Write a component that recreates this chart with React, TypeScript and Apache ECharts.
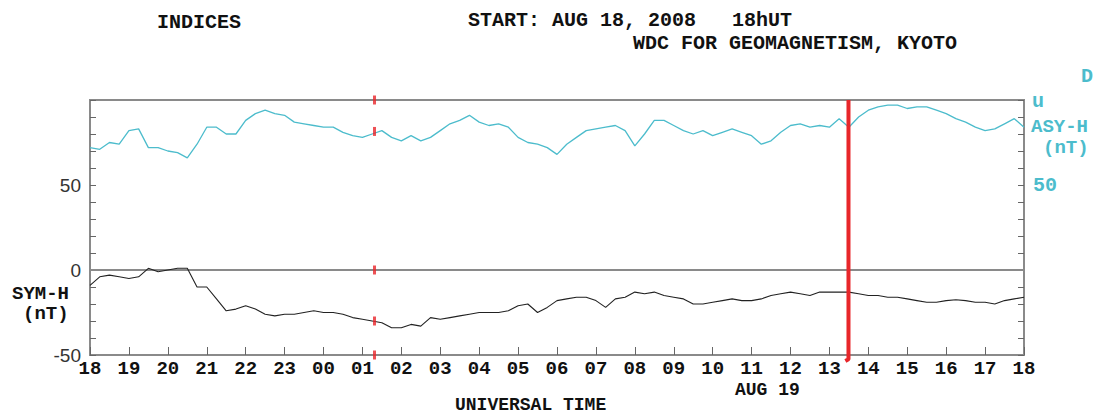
import React, { useEffect, useRef } from "react";
import * as echarts from "echarts";

// Hours after 2008-08-18 18h UT, sampled every quarter hour
const STEP_HOURS = 0.25;
const HOUR_LABELS = [
  "18", "19", "20", "21", "22", "23", "00", "01", "02", "03", "04", "05", "06",
  "07", "08", "09", "10", "11", "12", "13", "14", "15", "16", "17", "18",
];
const LEFT_LABELS = [-50, 0, 50];
const RIGHT_LABELS = [50];

// ASY-H (nT)
const ASY_H = [
  72, 71, 75, 74, 82, 83, 72, 72, 70, 69, 66, 74, 84, 84, 80, 80, 88, 92, 94, 92,
  91, 87, 86, 85, 84, 84, 81, 79, 78, 80, 82, 78, 76, 79, 76, 78, 82, 86, 88, 91,
  87, 85, 86, 84, 78, 75, 74, 72,
  68, 74, 78, 82, 83, 84, 85, 82, 73, 80, 88, 88, 85, 82, 80, 82, 79, 81, 83, 81,
  79, 74, 76, 81, 85, 86, 84, 85, 84, 89, 84, 90, 94, 96, 97, 97, 95, 96, 96, 94,
  92, 89, 87, 84, 82, 83, 86, 89, 84,
];

// SYM-H (nT)
const SYM_H = [
  -9, -4, -3, -4, -5, -4, 1, -1, 0, 1, 1, -10, -10, -17, -24, -23, -21, -23, -26, -27,
  -26, -26, -25, -24, -25, -25, -26, -28, -29, -30, -31, -34, -34, -32, -33, -28,
  -29, -28, -27, -26, -25, -25, -25, -24, -21, -20, -25, -22,
  -18, -17, -16, -16, -18, -22, -17, -16, -13, -14, -13, -15, -16, -17, -20, -20,
  -19, -18, -17, -18, -18, -17, -15, -14, -13, -14, -15, -13, -13, -13, -13, -14,
  -15, -15, -16, -16, -17, -18, -19, -19, -18, -17.5, -18, -19, -19, -20, -18, -17,
  -16,
];

// Red event markers
const CURSOR_HOUR = 7.31;
const CURSOR_VALUES = [100, 81.5, 0, -30, -50];
const EVENT_HOUR = 19.49;
const EVENT_LINE = [
  [EVENT_HOUR, 100],
  [EVENT_HOUR, -52.5],
  [EVENT_HOUR - 0.08, -53.5],
];

const MONO = "'Liberation Mono', 'DejaVu Sans Mono', monospace";
const CYAN = "#4cbccc";
const GRAY = "#8a8a8a";

export default function App() {
  const ref = useRef<HTMLDivElement>(null);

  useEffect(() => {
    if (!ref.current) return;
    const chart = echarts.init(ref.current, undefined, { renderer: "svg" });

    const asy = ASY_H.map((v, i) => [i * STEP_HOURS, v]);
    const sym = SYM_H.map((v, i) => [i * STEP_HOURS, v]);
    const cursor = CURSOR_VALUES.map((v) => [CURSOR_HOUR, v]);

    const txt = (
      text: string,
      x: number,
      y: number,
      fill = "#111",
      size = 20,
      lh = 16
    ) => ({
      type: "text",
      x,
      y,
      silent: true,
      style: {
        text,
        fill,
        font: `bold ${size}px ${MONO}`,
        lineHeight: lh,
        textAlign: "left",
        textVerticalAlign: "middle",
      },
    });

    chart.setOption({
      animation: false,
      backgroundColor: "#ffffff",
      grid: {
        left: 90,
        right: 71,
        top: 100,
        bottom: 61,
        show: true,
        borderColor: GRAY,
        borderWidth: 2,
      },
      xAxis: {
        type: "value",
        min: 0,
        max: 24,
        interval: 1,
        axisLine: { show: true, onZero: false, lineStyle: { color: GRAY, width: 2 } },
        axisTick: { show: true, inside: true, length: 8, lineStyle: { color: "#666" } },
        axisLabel: {
          formatter: (v: number) => HOUR_LABELS[Math.round(v)] ?? "",
          fontFamily: MONO,
          fontWeight: "bold",
          fontSize: 19,
          lineHeight: 17,
          color: "#111",
          margin: 5,
        },
        splitLine: { show: false },
      },
      yAxis: [
        {
          type: "value",
          min: -50,
          max: 100,
          interval: 10,
          position: "left",
          axisLine: { show: true, lineStyle: { color: GRAY, width: 2 } },
          axisTick: { show: true, inside: true, length: 6, lineStyle: { color: "#666" } },
          axisLabel: {
            formatter: (v: number) => (LEFT_LABELS.includes(v) ? String(v) : ""),
            fontFamily: "'Liberation Sans', Arial, sans-serif",
            fontSize: 19,
            color: "#333",
            margin: 9,
          },
          splitLine: { show: false },
        },
        {
          type: "value",
          min: -50,
          max: 100,
          interval: 10,
          position: "right",
          axisLine: { show: true, lineStyle: { color: GRAY, width: 2 } },
          axisTick: { show: true, inside: true, length: 6, lineStyle: { color: "#666" } },
          axisLabel: {
            formatter: (v: number) => (RIGHT_LABELS.includes(v) ? String(v) : ""),
            fontFamily: MONO,
            fontWeight: "bold",
            fontSize: 20,
            color: CYAN,
            margin: 9,
          },
          splitLine: { show: false },
        },
      ],
      series: [
        {
          name: "ASY-H",
          type: "line",
          yAxisIndex: 1,
          data: asy,
          showSymbol: false,
          lineStyle: { color: CYAN, width: 1.3 },
          z: 3,
        },
        {
          name: "SYM-H",
          type: "line",
          yAxisIndex: 0,
          data: sym,
          showSymbol: false,
          lineStyle: { color: "#222", width: 1.1 },
          z: 3,
          markLine: {
            silent: true,
            symbol: ["none", "none"],
            label: { show: false },
            lineStyle: { color: GRAY, width: 2, type: "solid" },
            data: [{ yAxis: 0 }],
            z: 2,
          },
        },
        {
          name: "cursor",
          type: "scatter",
          data: cursor,
          symbol: "rect",
          symbolSize: [3, 9],
          itemStyle: { color: "#e8262a" },
          silent: true,
          z: 5,
        },
        {
          name: "event",
          type: "line",
          data: EVENT_LINE,
          showSymbol: false,
          clip: false,
          lineStyle: { color: "#e8262a", width: 4 },
          silent: true,
          z: 6,
        },
      ],
      graphic: [
        txt("INDICES", 157, 22),
        txt("START: AUG 18, 2008   18hUT", 468, 20),
        txt("WDC FOR GEOMAGNETISM, KYOTO", 633, 43),
        txt("D", 1081, 76, CYAN),
        txt("u", 1032, 101, CYAN),
        txt("ASY-H", 1031, 127, CYAN, 19, 17),
        txt("(nT)", 1043, 148, CYAN, 19, 17),
        txt("SYM-H", 12, 294, "#111", 19, 18),
        txt("(nT)", 23, 314, "#111", 19, 18),
        txt("AUG 19", 735, 390, "#111", 18, 15),
        txt("UNIVERSAL TIME", 455, 405, "#111", 18, 15),
      ],
    });

    return () => chart.dispose();
  }, []);

  return (
    <div
      ref={ref}
      style={{ position: "fixed", left: 0, top: 0, width: 1095, height: 416 }}
    />
  );
}
